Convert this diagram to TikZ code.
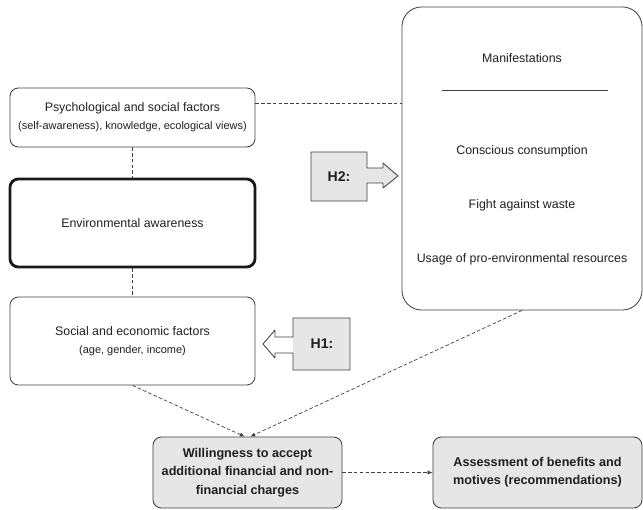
\documentclass[tikz,border=0pt]{standalone}
\usepackage{fontspec}
\setmainfont{Liberation Sans}
\usetikzlibrary{arrows.meta}
\definecolor{lgray}{HTML}{E6E6E6}
\definecolor{dgray}{HTML}{404040}
\newcommand\subtxt[1]{{\fontsize{7.8}{10}\selectfont #1}}
\begin{document}
\begin{tikzpicture}[x=0.025cm,y=-0.025cm,line join=bevel,
	rbox/.style={draw=dgray,line width=0.6pt,rounded corners=6pt,align=center,inner sep=0pt,text=black!88,font=\fontsize{8.8}{12.8}\selectfont},
	gbox/.style={rbox,fill=lgray,font=\bfseries\fontsize{9}{13}\selectfont},
	dline/.style={draw=dgray,line width=0.5pt,dash pattern=on 2.5pt off 1.6pt},
	darrow/.style={dline,-{Latex[length=3.5pt,width=3pt]}},
	hlabel/.style={font=\bfseries\fontsize{10}{12}\selectfont,text=black!88}]
	\useasboundingbox (0,0) rectangle (643,510);
	% left column
	\node[rbox,minimum width=6.125cm,minimum height=1.475cm] (psy) at (132.5,117.5) {Psychological and social factors\\\subtxt{(self-awareness), knowledge, ecological views)}};
	\node[rbox,line width=2pt,draw=black!90,minimum width=6.125cm,minimum height=2.2cm] (env) at (132.5,223) {Environmental awareness};
	\node[rbox,minimum width=6.125cm,minimum height=2.2cm] (soc) at (132.5,341) {Social and economic factors\\\subtxt{(age, gender, income)}};
	% right box
	\node[rbox,rounded corners=14pt,minimum width=6cm,minimum height=7.575cm] (man) at (522,158.5) {};
	\node[rbox,draw=none] (mtitle) at (522,58) {Manifestations};
	\draw[dgray,line width=0.6pt] (442,90.5)--(608,90.5) ;%rule
	\foreach \Y/\Txt/\Name in {151/Conscious consumption/mcons,205/Fight against waste/mwaste,259/Usage of pro-environmental resources/musage}
	\node[rbox,draw=none] (\Name) at (522,\Y) {\Txt};
	% bottom boxes
	\node[gbox,minimum width=4.725cm,minimum height=1.775cm] (will) at (247.5,472.5) {Willingness to accept\\additional financial and non-\\financial charges};
	\node[gbox,minimum width=5.225cm,minimum height=1.775cm] (ass) at (537.5,472.5) {Assessment of benefits and\\motives (recommendations)};
	% H2 arrow
	\filldraw[fill=lgray,draw=dgray,line width=0.6pt] (311,152)--(367,152)--(367,168)--(383,168)--(383,163)--(398,176)--(383,188)--(383,183)--(367,183)--(367,201)--(311,201)--cycle ;
	\node[hlabel] (h2) at (339,176.5) {H2:};
	% H1 arrow
	\fill[lgray] (293,318) rectangle (350,370) ;
	\draw[dgray,line width=0.6pt] (350,318)--(293,318)--(293,337)--(275,337)--(275,330)--(263,344)--(275,358)--(275,353)--(293,353)--(293,370)--(350,370)--cycle ;
	\node[hlabel] (h1) at (322,344) {H1:};
	% connectors
	\path ([yshift=10.3pt]psy.east) coordinate (psyr) ;
	\draw[dline] (psyr)--(psyr -| man.west) ;
	\draw[dline] (psy.south)--(env.north) ;
	\draw[dline] (env.south)--(soc.north) ;
	\draw[darrow] (soc.south)--([xshift=-2pt]will.north) ;
	\draw[darrow] (man.south)--([xshift=2pt]will.north) ;
	\draw[darrow] (will.east)--(ass.west) ;
\end{tikzpicture}
\end{document}
